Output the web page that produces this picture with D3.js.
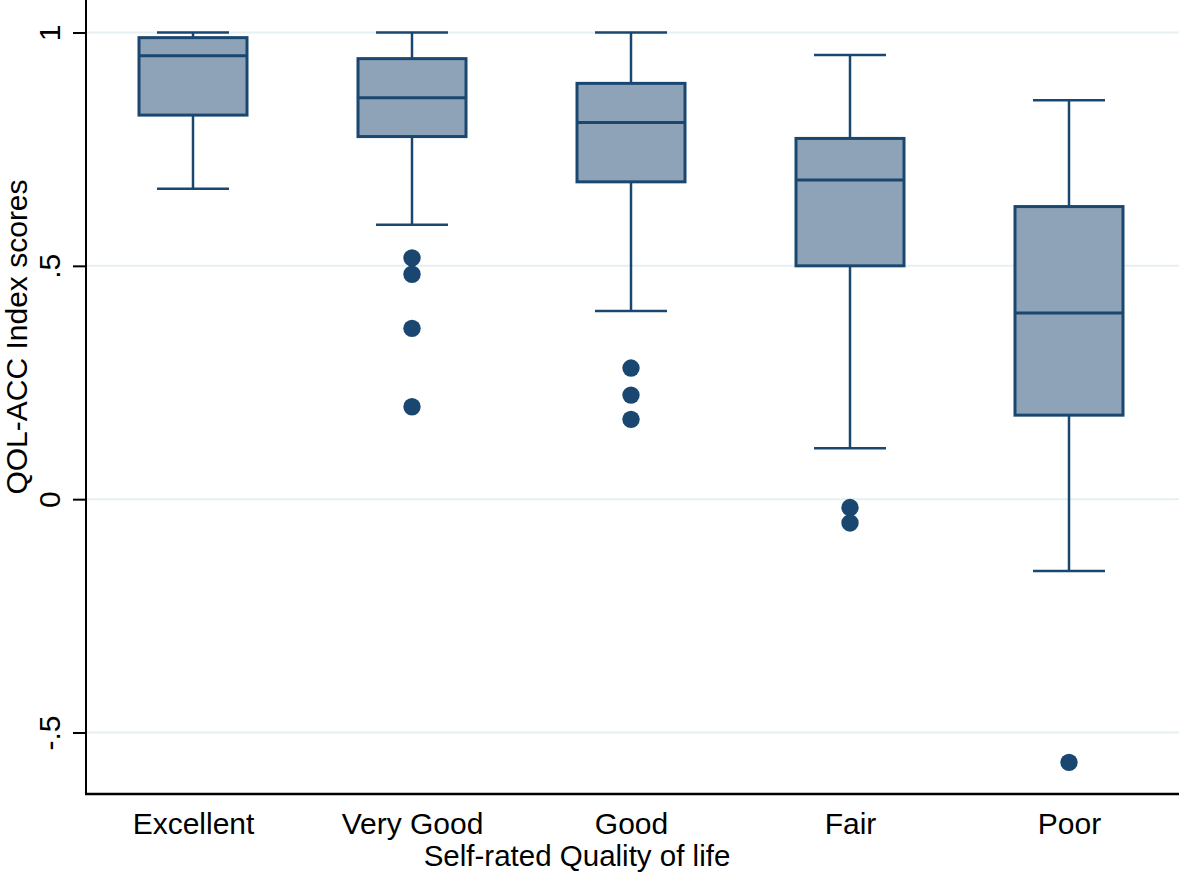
<!DOCTYPE html>
<html>
<head>
<meta charset="utf-8">
<script src="https://cdn.jsdelivr.net/npm/d3@7"></script>
<style>
  html, body { margin: 0; padding: 0; background: #fff; }
  svg { display: block; }
  text { font-family: "Liberation Sans", Arial, sans-serif; fill: #000; }
</style>
</head>
<body>
<svg id="chart" width="1179" height="878"></svg>
<script>
// ---- data ----
const categories = ["Excellent", "Very Good", "Good", "Fair", "Poor"];
const whiskerHigh = [1.000, 1.000, 1.000, 0.952, 0.855];
const q3          = [0.989, 0.944, 0.891, 0.773, 0.627];
const median      = [0.950, 0.860, 0.807, 0.684, 0.399];
const q1          = [0.823, 0.777, 0.680, 0.500, 0.180];
const whiskerLow  = [0.665, 0.588, 0.403, 0.109, -0.154];
const outliers = [
  [],
  [0.517, 0.482, 0.366, 0.198],
  [0.281, 0.223, 0.171],
  [-0.018, -0.051],
  [-0.564]
];
const yTicks = [-0.5, 0, 0.5, 1];
const yTickLabels = ["-.5", "0", ".5", "1"];
const xTitle = "Self-rated Quality of life";
const yTitle = "QOL-ACC Index scores";

// ---- layout ----
const svg = d3.select("#chart");
const axisX = 86, axisBottom = 794, axisTop = 0, rightEdge = 1179;
const navy = "#1a476f", boxFill = "#8ea3b7", gridCol = "#e6eff1";

const y = d3.scaleLinear().domain([-0.5, 1]).range([732.5, 32.5]);
const x = d3.scalePoint().domain(categories).range([193, 1069]);
const boxW = 108, capW = 72;

// gridlines
svg.append("g").selectAll("line").data(yTicks).join("line")
  .attr("x1", axisX).attr("x2", rightEdge)
  .attr("y1", d => y(d)).attr("y2", d => y(d))
  .attr("stroke", gridCol).attr("stroke-width", 2);

// y axis
const yAxis = d3.axisLeft(y).tickValues(yTicks)
  .tickFormat((d, i) => yTickLabels[i]).tickSize(13).tickPadding(13);
const gy = svg.append("g").attr("transform", `translate(${axisX},0)`).call(yAxis);
gy.select(".domain").remove();
gy.selectAll(".tick line").attr("stroke", "#000").attr("stroke-width", 2);
gy.selectAll(".tick text")
  .attr("font-size", 30)
  .attr("font-family", "'Liberation Sans', Arial, sans-serif")
  .attr("fill", "#000")
  .attr("transform", "rotate(-90)")
  .attr("x", 0).attr("y", -26).attr("dy", 0)
  .attr("text-anchor", "middle");
svg.append("line").attr("x1", axisX).attr("x2", axisX)
  .attr("y1", axisTop).attr("y2", axisBottom + 1)
  .attr("stroke", "#000").attr("stroke-width", 2);

// x axis
const xAxis = d3.axisBottom(x).tickSize(0).tickPadding(0);
const gx = svg.append("g").attr("transform", `translate(0,${axisBottom})`).call(xAxis);
gx.select(".domain").remove();
gx.selectAll(".tick text")
  .attr("font-size", 30)
  .attr("font-family", "'Liberation Sans', Arial, sans-serif")
  .attr("fill", "#000")
  .attr("y", 40).attr("dy", 0);
svg.append("line").attr("x1", axisX - 1).attr("x2", rightEdge)
  .attr("y1", axisBottom).attr("y2", axisBottom)
  .attr("stroke", "#000").attr("stroke-width", 2.5);

// boxes
const g = svg.append("g");
categories.forEach((c, i) => {
  const cx = x(c);
  const sw = 2.5;
  // whiskers
  g.append("line").attr("x1", cx).attr("x2", cx)
    .attr("y1", y(whiskerHigh[i])).attr("y2", y(q3[i]))
    .attr("stroke", navy).attr("stroke-width", sw);
  g.append("line").attr("x1", cx).attr("x2", cx)
    .attr("y1", y(q1[i])).attr("y2", y(whiskerLow[i]))
    .attr("stroke", navy).attr("stroke-width", sw);
  // caps
  [whiskerHigh[i], whiskerLow[i]].forEach(v => {
    g.append("line").attr("x1", cx - capW / 2).attr("x2", cx + capW / 2)
      .attr("y1", y(v)).attr("y2", y(v))
      .attr("stroke", navy).attr("stroke-width", sw);
  });
  // box
  g.append("rect")
    .attr("x", cx - boxW / 2).attr("width", boxW)
    .attr("y", y(q3[i])).attr("height", y(q1[i]) - y(q3[i]))
    .attr("fill", boxFill).attr("stroke", navy).attr("stroke-width", 3);
  // median
  g.append("line").attr("x1", cx - boxW / 2).attr("x2", cx + boxW / 2)
    .attr("y1", y(median[i])).attr("y2", y(median[i]))
    .attr("stroke", navy).attr("stroke-width", 3);
  // outliers
  g.selectAll(null).data(outliers[i]).join("circle")
    .attr("cx", cx).attr("cy", d => y(d)).attr("r", 8.7)
    .attr("fill", navy);
});

// titles
svg.append("text").attr("x", 577).attr("y", 866)
  .attr("text-anchor", "middle").attr("font-size", 29.5).text(xTitle);
svg.append("text")
  .attr("transform", "translate(27,337) rotate(-90)")
  .attr("text-anchor", "middle").attr("font-size", 30).text(yTitle);
</script>
</body>
</html>
